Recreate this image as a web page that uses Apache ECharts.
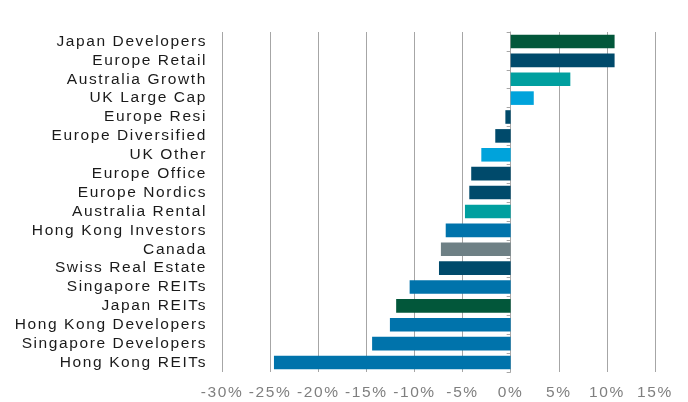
<!DOCTYPE html>
<html>
<head>
<meta charset="utf-8">
<script src="https://cdn.jsdelivr.net/npm/echarts@6/dist/echarts.min.js"></script>
<style>
  html, body { margin: 0; padding: 0; background: #fff; }
  #chart { width: 688px; height: 402px; }
</style>
</head>
<body>
<div id="chart"></div>
<script>
// 分类（从上到下）
const categories = [
  'Japan Developers', 'Europe Retail', 'Australia Growth', 'UK Large Cap',
  'Europe Resi', 'Europe Diversified', 'UK Other', 'Europe Office',
  'Europe Nordics', 'Australia Rental', 'Hong Kong Investors', 'Canada',
  'Swiss Real Estate', 'Singapore REITs', 'Japan REITs',
  'Hong Kong Developers', 'Singapore Developers', 'Hong Kong REITs'
]
// 收益率 %
const returns = [
  10.8, 10.8, 6.2, 2.4,
  -0.55, -1.6, -3.05, -4.1,
  -4.3, -4.75, -6.75, -7.25,
  -7.45, -10.5, -11.9,
  -12.55, -14.4, -24.6
]
// x 轴刻度
const xTicks = [-30, -25, -20, -15, -10, -5, 0, 5, 10, 15]

// 每个分类的颜色
const green = '#02573a'
const navy = '#004a6b'
const teal = '#009f9f'
const sky = '#00a3db'
const blue = '#0073ab'
const grey = '#6e8085'
const barColors = [
  green, navy, teal, sky,
  navy, navy, sky, navy,
  navy, teal, blue, grey,
  navy, blue, green,
  blue, blue, blue
]

const chart = echarts.init(document.getElementById('chart'))

const option = {
  animation: false,
  grid: {
    left: 222,
    right: 33,
    top: 32,
    bottom: 30
  },
  xAxis: {
    type: 'value',
    min: xTicks[0],
    max: xTicks[xTicks.length - 1],
    interval: 5,
    axisLine: { show: false },
    axisTick: { show: false },
    axisLabel: {
      margin: 13,
      color: '#7f7f7f',
      fontSize: 15.5,
      fontFamily: 'Liberation Sans',
      formatter: v => v + '%'
    },
    splitLine: { lineStyle: { color: '#a6a6a6', width: 1 } }
  },
  yAxis: [
    {
      // 左侧文字
      type: 'category',
      data: categories,
      inverse: true,
      axisLine: { show: false, onZero: false },
      axisTick: { show: false },
      axisLabel: {
        interval: 0,
        margin: 15,
        color: '#1a1a1a',
        fontSize: 15.5,
        fontFamily: 'Liberation Sans'
      }
    },
    {
      // 0 处的轴线和刻度
      type: 'category',
      data: categories,
      inverse: true,
      position: 'left',
      axisLine: { show: true, onZero: true, lineStyle: { color: '#a6a6a6' } },
      axisTick: { show: true, interval: 0, length: 4, lineStyle: { color: '#a6a6a6' } },
      axisLabel: { show: false }
    }
  ],
  series: [
    {
      type: 'bar',
      yAxisIndex: 0,
      barWidth: '72%',
      data: returns.map((v, i) => ({
        value: v,
        itemStyle: { color: barColors[i] }
      }))
    }
  ]
}

chart.setOption(option)

// 原图文字字距比较宽，给 canvas 设置字距后重画一次
const canvas = document.querySelector('#chart canvas')
if (canvas) {
  canvas.getContext('2d').letterSpacing = '1.6px'
  chart.clear()
  chart.setOption(option)
}
</script>
</body>
</html>
